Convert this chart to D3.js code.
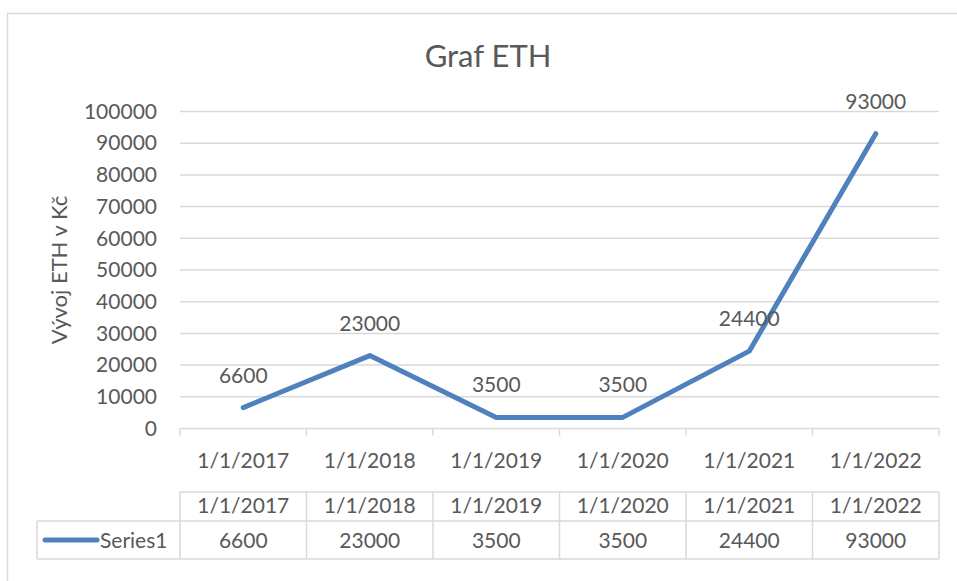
<!DOCTYPE html>
<html>
<head>
<meta charset="utf-8">
<script src="https://cdn.jsdelivr.net/npm/d3@7"></script>
<style>
  html, body { margin: 0; padding: 0; background: #fff; }
  svg { display: block; font-family: Lato, "Noto Sans", sans-serif; }
  .txt { fill: #595959; }
</style>
</head>
<body>
<svg id="chart" width="957" height="581"></svg>
<script>
// Data.
const categories = ['1/1/2017', '1/1/2018', '1/1/2019', '1/1/2020', '1/1/2021', '1/1/2022'];
const values = [6600, 23000, 3500, 3500, 24400, 93000];
const seriesName = 'Series1';
const yTicks = [0, 10000, 20000, 30000, 40000, 50000, 60000, 70000, 80000, 90000, 100000];
const chartTitle = 'Graf ETH';
const yTitle = 'Vývoj ETH v Kč';

const GRID = '#d9d9d9';
const LINE = '#4f81bd';

(function () {
  const svg = d3.select('#chart');

  // Plot area (px).
  const plotLeft = 180, plotRight = 939, plotTop = 111.5, plotBottom = 428.5;

  const x = d3.scaleBand().domain(categories).range([plotLeft, plotRight]).padding(0);
  const y = d3.scaleLinear().domain([0, 100000]).range([plotBottom, plotTop]);
  const cx = c => x(c) + x.bandwidth() / 2;

  // Outer chart border (runs off the right/bottom of the picture).
  svg.append('rect')
    .attr('x', 7.5).attr('y', 13.5)
    .attr('width', 1000).attr('height', 700)
    .attr('fill', 'none').attr('stroke', GRID).attr('stroke-width', 1.5);

  // Title.
  svg.append('text').attr('class', 'txt')
    .attr('x', 488).attr('y', 67)
    .attr('text-anchor', 'middle')
    .attr('font-size', 31)
    .text(chartTitle);

  // Horizontal gridlines.
  svg.append('g').selectAll('line')
    .data(yTicks.filter(t => t > 0))
    .enter().append('line')
      .attr('x1', plotLeft).attr('x2', plotRight)
      .attr('y1', d => y(d)).attr('y2', d => y(d))
      .attr('stroke', GRID).attr('stroke-width', 1.5);

  // Y axis labels.
  const yAxis = svg.append('g')
    .attr('transform', `translate(${plotLeft - 23},0)`)
    .call(d3.axisLeft(y).tickValues(yTicks).tickSize(0).tickPadding(0).tickFormat(d3.format('d')));
  yAxis.select('.domain').remove();
  yAxis.selectAll('text')
    .attr('class', 'txt')
    .attr('font-size', 21)
    .attr('font-family', 'Lato, "Noto Sans", sans-serif');

  // Y axis title.
  svg.append('text').attr('class', 'txt')
    .attr('transform', 'translate(58,270) rotate(-90)')
    .attr('text-anchor', 'middle')
    .attr('dominant-baseline', 'central')
    .attr('font-size', 22)
    .text(yTitle);

  // X axis line + category ticks.
  svg.append('line')
    .attr('x1', plotLeft).attr('x2', plotRight)
    .attr('y1', plotBottom).attr('y2', plotBottom)
    .attr('stroke', GRID).attr('stroke-width', 1.5);
  const bounds = categories.map(c => x(c)).concat([plotRight]);
  svg.append('g').selectAll('line')
    .data(bounds)
    .enter().append('line')
      .attr('x1', d => d).attr('x2', d => d)
      .attr('y1', plotBottom).attr('y2', plotBottom + 7)
      .attr('stroke', GRID).attr('stroke-width', 1.5);

  // Category labels under the axis.
  svg.append('g').selectAll('text')
    .data(categories)
    .enter().append('text')
      .attr('class', 'txt')
      .attr('x', d => cx(d))
      .attr('y', 468)
      .attr('text-anchor', 'middle')
      .attr('font-size', 21)
      .text(d => d);

  // Series line.
  svg.append('path')
    .datum(values)
    .attr('fill', 'none')
    .attr('stroke', LINE)
    .attr('stroke-width', 5)
    .attr('stroke-linejoin', 'round')
    .attr('stroke-linecap', 'round')
    .attr('d', d3.line().x((d, i) => cx(categories[i])).y(d => y(d)));

  // Data labels above points.
  svg.append('g').selectAll('text')
    .data(values)
    .enter().append('text')
      .attr('class', 'txt')
      .attr('x', (d, i) => cx(categories[i]))
      .attr('y', d => y(d) - 25)
      .attr('text-anchor', 'middle')
      .attr('font-size', 21)
      .text(d => d);

  // Data table.
  const rowTop = 492, rowMid = 521, rowBot = 559, legendLeft = 37;
  const table = svg.append('g').attr('stroke', GRID).attr('stroke-width', 1.5);
  table.append('line').attr('x1', plotLeft).attr('x2', plotRight).attr('y1', rowTop).attr('y2', rowTop);
  table.append('line').attr('x1', legendLeft).attr('x2', plotRight).attr('y1', rowMid).attr('y2', rowMid);
  table.append('line').attr('x1', legendLeft).attr('x2', plotRight).attr('y1', rowBot).attr('y2', rowBot);
  table.append('line').attr('x1', legendLeft).attr('x2', legendLeft).attr('y1', rowMid).attr('y2', rowBot);
  table.selectAll('line.col')
    .data(bounds)
    .enter().append('line')
      .attr('class', 'col')
      .attr('x1', d => d).attr('x2', d => d)
      .attr('y1', rowTop).attr('y2', rowBot);

  svg.append('g').selectAll('text')
    .data(categories)
    .enter().append('text')
      .attr('class', 'txt')
      .attr('x', d => cx(d))
      .attr('y', 513)
      .attr('text-anchor', 'middle')
      .attr('font-size', 21)
      .text(d => d);

  svg.append('g').selectAll('text')
    .data(values)
    .enter().append('text')
      .attr('class', 'txt')
      .attr('x', (d, i) => cx(categories[i]))
      .attr('y', 548)
      .attr('text-anchor', 'middle')
      .attr('font-size', 21)
      .text(d => d);

  // Legend key inside the table.
  svg.append('line')
    .attr('x1', 45).attr('x2', 97)
    .attr('y1', 540).attr('y2', 540)
    .attr('stroke', LINE).attr('stroke-width', 5)
    .attr('stroke-linecap', 'round');
  svg.append('text').attr('class', 'txt')
    .attr('x', 100).attr('y', 548)
    .attr('font-size', 21)
    .text(seriesName);
})();
</script>
</body>
</html>
